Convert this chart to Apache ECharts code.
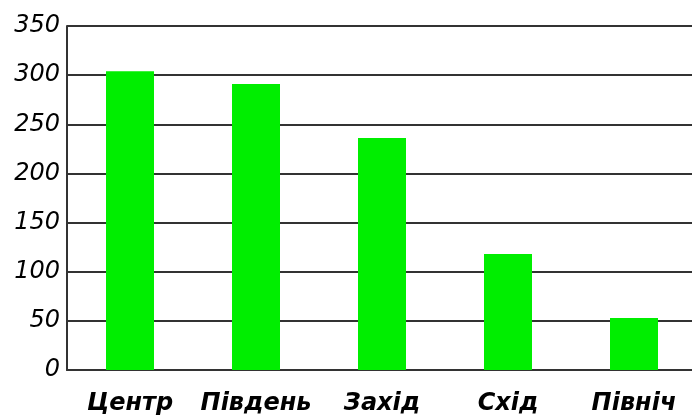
<!DOCTYPE html>
<html>
<head>
<meta charset="utf-8">
<script src="https://cdn.jsdelivr.net/npm/echarts@6/dist/echarts.min.js"></script>
<style>
  html, body { margin: 0; padding: 0; background: #fff; overflow: hidden; }
  #chart { width: 697px; height: 417px; }
</style>
</head>
<body>
<div id="chart"></div>
<script>
// Regions and their totals
const regions = ['Центр', 'Південь', 'Захід', 'Схід', 'Північ'];
const totals = [304, 291, 236, 118, 53];
const yTicks = { min: 0, max: 350, interval: 50 };

const chart = echarts.init(document.getElementById('chart'), null, { renderer: 'canvas' });
chart.setOption({
  animation: false,
  backgroundColor: '#ffffff',
  grid: { left: 67, right: 0, top: 26, bottom: 47, containLabel: false },
  xAxis: {
    type: 'category',
    data: regions,
    axisLine: { show: true, lineStyle: { color: '#333', width: 2 } },
    axisTick: { show: false },
    axisLabel: {
      interval: 0,
      hideOverlap: false,
      margin: 22,
      color: '#000',
      fontFamily: 'DejaVu Sans',
      fontStyle: 'italic',
      fontWeight: 'bold',
      fontSize: 24
    }
  },
  yAxis: {
    type: 'value',
    min: yTicks.min,
    max: yTicks.max,
    interval: yTicks.interval,
    axisLine: { show: true, lineStyle: { color: '#333', width: 2 } },
    axisTick: { show: false },
    splitLine: { show: true, lineStyle: { color: '#333', width: 2 } },
    axisLabel: {
      margin: 7,
      color: '#000',
      fontFamily: 'DejaVu Sans',
      fontStyle: 'italic',
      fontSize: 24
    }
  },
  series: [{
    type: 'bar',
    data: totals,
    barWidth: 48,
    itemStyle: { color: '#00ee00' }
  }]
});
</script>
</body>
</html>
